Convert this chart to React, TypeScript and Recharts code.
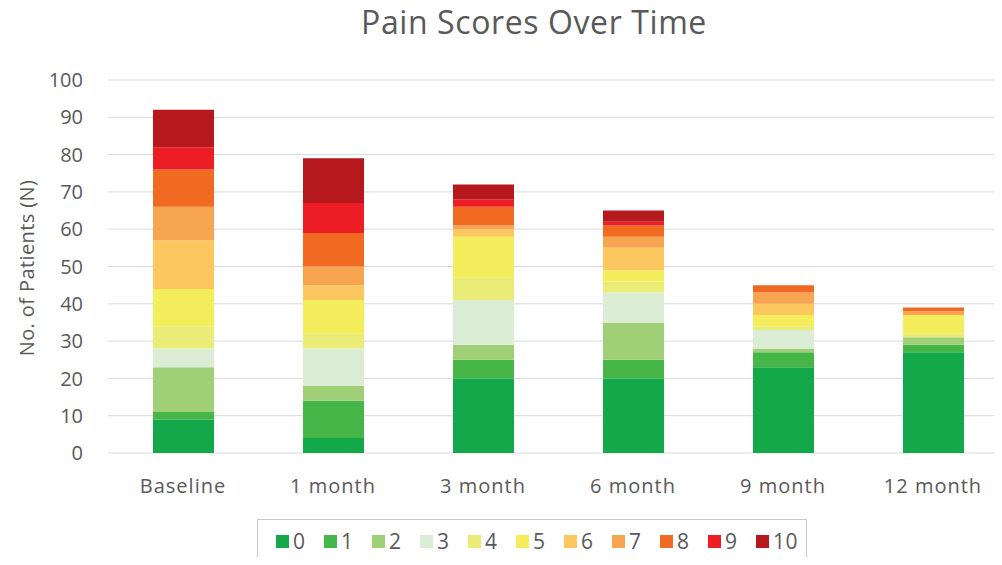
import React from "react"
import { Bar, BarChart, CartesianGrid, XAxis, YAxis } from "recharts"

// periods on the x axis
const periods = ["Baseline", "1 month", "3 month", "6 month", "9 month", "12 month"]

// number of patients reporting each pain score, per period
const score0 = [9, 4, 20, 20, 23, 27]
const score1 = [2, 10, 5, 5, 4, 2]
const score2 = [12, 4, 4, 10, 1, 2]
const score3 = [5, 10, 12, 8, 5, 0]
const score4 = [6, 4, 6, 3, 1, 1]
const score5 = [10, 9, 11, 3, 3, 5]
const score6 = [13, 4, 2, 6, 3, 0]
const score7 = [9, 5, 1, 3, 3, 1]
const score8 = [10, 9, 5, 3, 2, 1]
const score9 = [6, 8, 2, 1, 0, 0]
const score10 = [10, 12, 4, 3, 0, 0]

const scoreLabels = ["0", "1", "2", "3", "4", "5", "6", "7", "8", "9", "10"]
const scoreSeries = [score0, score1, score2, score3, score4, score5, score6, score7, score8, score9, score10]
const scoreColors = [
  "#13a84a",
  "#46b649",
  "#9fd077",
  "#dcedd5",
  "#e9ed78",
  "#f5ee5c",
  "#fdc75f",
  "#f8a552",
  "#f06a22",
  "#ec1d25",
  "#b5191e",
]

const yTicks = [0, 10, 20, 30, 40, 50, 60, 70, 80, 90, 100]

const data = periods.map((period, i) => {
  const row: Record<string, any> = { period }
  scoreSeries.forEach((values, s) => {
    row["s" + s] = values[i]
  })
  return row
})

const font = "'Open Sans', 'Noto Sans', sans-serif"
const textColor = "#595959"

function ScoreLegend() {
  return (
    <div
      style={{
        position: "absolute",
        left: 257,
        top: 519,
        width: 550,
        height: 44,
        boxSizing: "border-box",
        border: "1px solid #c8c8c8",
        display: "flex",
        alignItems: "center",
        paddingLeft: 18,
        fontFamily: font,
        fontSize: 21,
        letterSpacing: 0.5,
        color: textColor,
      }}
    >
      {scoreLabels.map((label, i) => (
        <div key={label} style={{ display: "flex", alignItems: "center", width: 48 }}>
          <span style={{ width: 13, height: 13, background: scoreColors[i], marginRight: 4 }} />
          <span>{label}</span>
        </div>
      ))}
    </div>
  )
}

export default function App() {
  return (
    <div
      style={{
        position: "relative",
        width: 1002,
        height: 565,
        margin: -8,
        overflow: "hidden",
        background: "#fff",
        fontFamily: font,
      }}
    >
      <div
        style={{
          position: "absolute",
          left: 0,
          width: 1068,
          top: 0,
          textAlign: "center",
          fontSize: 32,
          letterSpacing: 0.6,
          color: textColor,
        }}
      >
        Pain Scores Over Time
      </div>
      <div
        style={{
          position: "absolute",
          left: 26,
          top: 268,
          transform: "translate(-50%, -50%) rotate(-90deg)",
          whiteSpace: "nowrap",
          fontSize: 20,
          letterSpacing: 0.4,
          color: textColor,
        }}
      >
        No. of Patients (N)
      </div>
      <BarChart
        width={1010}
        height={565}
        data={data}
        margin={{ top: 80, right: 2, left: 8, bottom: 72 }}
        barSize={61}
      >
        <CartesianGrid vertical={false} stroke="#d9d9d9" />
        <XAxis
          dataKey="period"
          height={40}
          axisLine={false}
          tickLine={false}
          tickMargin={20}
          tick={{ fontSize: 20, fill: textColor, fontFamily: font, letterSpacing: 1 }}
        />
        <YAxis
          width={100}
          domain={[0, 100]}
          ticks={yTicks}
          interval={0}
          axisLine={false}
          tickLine={false}
          tickMargin={19}
          tick={{ fontSize: 20, fill: textColor, fontFamily: font }}
        />
        {scoreLabels.map((label, i) => (
          <Bar
            key={label}
            dataKey={"s" + i}
            name={label}
            stackId="pain"
            fill={scoreColors[i]}
            isAnimationActive={false}
          />
        ))}
      </BarChart>
      <ScoreLegend />
    </div>
  )
}
